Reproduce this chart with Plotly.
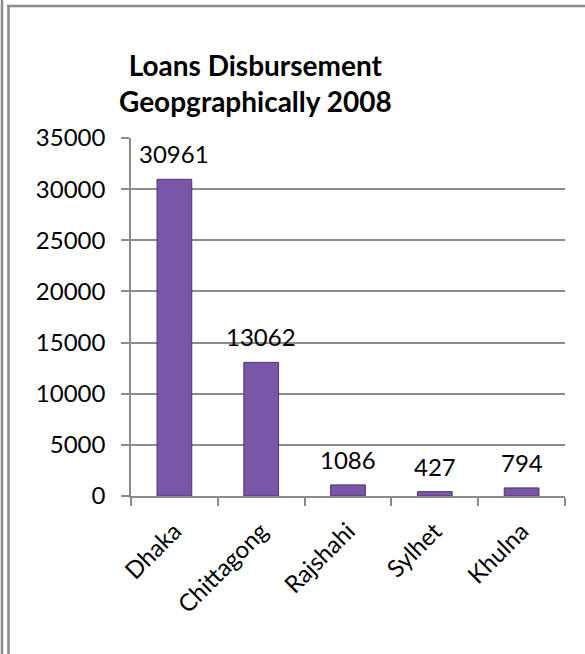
import plotly.graph_objects as go

# Loan disbursement by division, 2008
regions = ["Dhaka", "Chittagong", "Rajshahi", "Sylhet", "Khulna"]
loans = [30961, 13062, 1086, 427, 794]
y_ticks = [0, 5000, 10000, 15000, 20000, 25000, 30000, 35000]

W, H = 585, 654
L, R, T, B = 131, 20, 138, 158
PW, PH = W - L - R, H - T - B

FONT = "Lato, 'Open Sans', sans-serif"
GRID = "#8c8c8c"


def px_x(x):
    return (x - L) / PW


def px_y(y):
    return (H - B - y) / PH


fig = go.Figure(
    go.Bar(
        x=regions,
        y=loans,
        marker=dict(color="#7a56a8", line=dict(color="#4e3573", width=1)),
        hoverinfo="x+y",
    )
)

# value labels above each bar
for r, v in zip(regions, loans):
    fig.add_annotation(
        x=r, y=v, text=str(v), showarrow=False,
        yanchor="bottom", yshift=9,
        font=dict(family=FONT, size=24, color="#000"),
    )

# chart title
fig.add_annotation(
    xref="paper", yref="paper",
    x=px_x(255), y=px_y(46), xanchor="center", yanchor="top",
    text="<b>Loans Disbursement<br>Geopgraphically 2008</b>",
    showarrow=False, align="center",
    font=dict(family=FONT, size=28, color="#000"),
)

# frame lines around the chart box
frame = dict(type="line", xref="paper", yref="paper", layer="above")
fig.add_shape(**frame, x0=px_x(2), x1=px_x(2), y0=px_y(0), y1=px_y(H),
              line=dict(color="#8a8a8a", width=2.5))
fig.add_shape(**frame, x0=px_x(8.5), x1=px_x(8.5), y0=px_y(5), y1=px_y(H),
              line=dict(color="#8a8a8a", width=2.5))
fig.add_shape(**frame, x0=px_x(7), x1=px_x(W), y0=px_y(6), y1=px_y(6),
              line=dict(color="#8a8a8a", width=2.5))

fig.update_layout(
    width=W, height=H,
    margin=dict(l=L, r=R, t=T, b=B, pad=0),
    paper_bgcolor="white", plot_bgcolor="white",
    showlegend=False,
    bargap=0.6,
    font=dict(family=FONT, size=24, color="#000"),
    xaxis=dict(
        tickangle=-45,
        tickson="boundaries", ticks="outside", ticklen=8, tickwidth=1.5,
        tickcolor=GRID,
        showline=True, linecolor=GRID, linewidth=1.5,
        showgrid=False,
        tickfont=dict(family=FONT, size=24, color="#000"),
        ticklabelstandoff=10,
    ),
    yaxis=dict(
        range=[0, 35000],
        tickvals=y_ticks,
        ticktext=[str(t) for t in y_ticks],
        ticks="outside", ticklen=8, tickwidth=1.5, tickcolor=GRID,
        showline=True, linecolor=GRID, linewidth=1.5,
        showgrid=True, gridcolor=GRID, gridwidth=1.5,
        zeroline=False,
        tickfont=dict(family=FONT, size=24, color="#000"),
        ticklabelstandoff=11,
    ),
)

fig.write_html("out.html")
